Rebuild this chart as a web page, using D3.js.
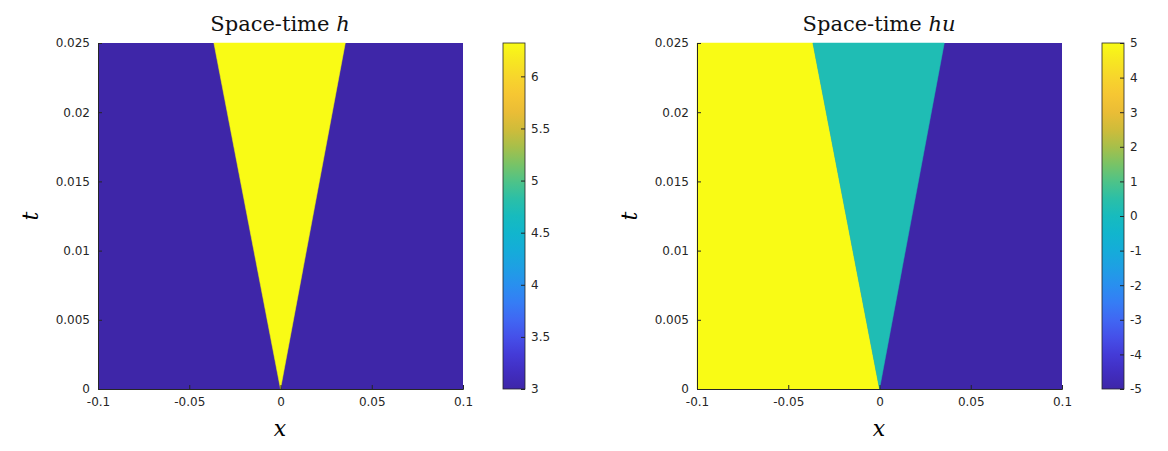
<!DOCTYPE html>
<html><head><meta charset="utf-8">
<script src="https://cdn.jsdelivr.net/npm/d3@7"></script>
<style>body{margin:0;background:#fff}svg text{font-family:"DejaVu Sans",sans-serif}</style>
</head><body><svg id="c" width="1168" height="451"></svg>
<script>
/* Domain of both panels */
var xDomain = [-0.1, 0.1];
var tDomain = [0, 0.025];
var xTicks = [-0.1, -0.05, 0, 0.05, 0.1];
var tTicks = [0, 0.005, 0.01, 0.015, 0.02, 0.025];

/* Panel h: background state and fan region */
var hBack = 3;
var hFan = 6.32;
var hFanPoly = [[0, 0], [-0.0365, 0.025], [0.0355, 0.025]];
var hRange = [3, 6.32];
var hBarTicks = [3, 3.5, 4, 4.5, 5, 5.5, 6];

/* Panel hu: three states */
var huBack = -5;
var huLeft = 5;
var huMid = 0.25;
var huLeftPoly = [[-0.1, 0], [0, 0], [-0.0365, 0.025], [-0.1, 0.025]];
var huMidPoly = [[0, 0], [-0.0365, 0.025], [0.0355, 0.025]];
var huRange = [-5, 5];
var huBarTicks = [-5, -4, -3, -2, -1, 0, 1, 2, 3, 4, 5];

/* Parula-like colormap */
var parulaStops = ["#3e26a8", "#4433d6", "#4760f5", "#2f87f7", "#1ba5e1", "#0bb7cd", "#1fbfb0", "#6bc76e", "#c3bb35", "#fbbb38", "#f5d72c", "#f9fb15"];
var parula = d3.interpolateRgbBasis(parulaStops);

var svg = d3.select("#c");
var fmt = function(d){ return String(+d.toFixed(3)); };

function panel(ox, titleVar, range, barTicks, regions) {
	var x = d3.scaleLinear().domain(xDomain).range([ox, ox + 365]);
	var y = d3.scaleLinear().domain(tDomain).range([389, 43]);
	var col = d3.scaleSequential(parula).domain(range);
	var g = svg.append("g");
	var line = d3.line().x(function(d){ return x(d[0]); }).y(function(d){ return y(d[1]); });

	regions.forEach(function(r) {
		if (r.poly) g.append("path").attr("d", line(r.poly) + "Z").attr("fill", col(r.v)).attr("stroke", col(r.v)).attr("stroke-width", 0.5);
		else g.append("rect").attr("x", x(xDomain[0])).attr("y", y(tDomain[1]))
			.attr("width", 365).attr("height", 346).attr("fill", col(r.v));
	});

	var xa = g.append("g").attr("transform", "translate(0,389)")
		.call(d3.axisBottom(x).tickValues(xTicks).tickSize(-4).tickPadding(8).tickFormat(fmt));
	var ya = g.append("g").attr("transform", "translate(" + ox + ",0)")
		.call(d3.axisLeft(y).tickValues(tTicks).tickSize(-4).tickPadding(8).tickFormat(fmt));
	[xa, ya].forEach(function(a){
		a.selectAll("text").attr("font-size", 12).attr("fill", "#262626");
		a.selectAll("line,path").attr("stroke", "#262626");
	});

	g.append("text").attr("x", ox + 182).attr("y", 31).attr("text-anchor", "middle")
		.style("font-family", "'DejaVu Serif',serif").attr("font-size", 21).attr("fill", "#111")
		.text("Space-time ").append("tspan").attr("font-style", "italic").text(titleVar);
	g.append("text").attr("x", ox + 182).attr("y", 436).attr("text-anchor", "middle")
		.style("font-family", "'DejaVu Serif',serif").attr("font-style", "italic").attr("font-size", 22).text("x");
	g.append("text").attr("transform", "translate(" + (ox - 60) + ",216) rotate(-90)").attr("text-anchor", "middle")
		.style("font-family", "'DejaVu Serif',serif").attr("font-style", "italic").attr("font-size", 22).text("t");

	/* colorbar */
	var bx = ox + 405;
	var cy = d3.scaleLinear().domain(range).range([389, 43]);
	var grad = svg.append("defs").append("linearGradient").attr("id", "g" + ox)
		.attr("x1", 0).attr("y1", 1).attr("x2", 0).attr("y2", 0);
	d3.range(0, 1.001, 0.05).forEach(function(s){
		grad.append("stop").attr("offset", s).attr("stop-color", parula(s));
	});
	g.append("rect").attr("x", bx).attr("y", 43).attr("width", 22).attr("height", 346)
		.attr("fill", "url(#g" + ox + ")").attr("stroke", "#262626").attr("stroke-width", 0.8);
	var ca = g.append("g").attr("transform", "translate(" + (bx + 22) + ",0)")
		.call(d3.axisRight(cy).tickValues(barTicks).tickSize(-4).tickPadding(6).tickFormat(fmt));
	ca.select(".domain").remove();
	ca.selectAll("line").attr("stroke", "#262626");
	ca.selectAll("text").attr("font-size", 12).attr("fill", "#262626");
}

panel(98, "h", hRange, hBarTicks, [{v: hBack}, {v: hFan, poly: hFanPoly}]);
panel(697, "hu", huRange, huBarTicks, [{v: huBack}, {v: huLeft, poly: huLeftPoly}, {v: huMid, poly: huMidPoly}]);
</script></body></html>
